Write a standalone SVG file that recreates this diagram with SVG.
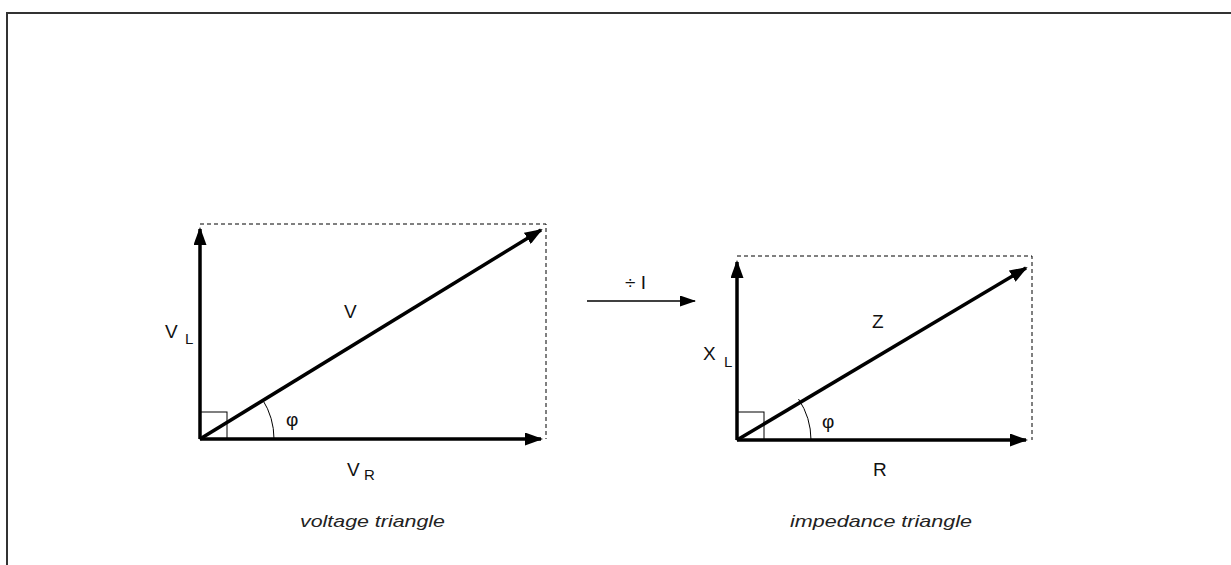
<svg xmlns="http://www.w3.org/2000/svg" width="1231" height="565" viewBox="0 0 1231 565">
<defs>
<marker id="ah" markerWidth="18" markerHeight="13" refX="16" refY="6.5" orient="auto" markerUnits="userSpaceOnUse">
<path d="M0,0 L18,6.5 L0,13 Z" fill="#000"/>
</marker>
<marker id="ahs" markerWidth="16" markerHeight="11" refX="15" refY="5.5" orient="auto" markerUnits="userSpaceOnUse">
<path d="M0,0 L16,5.5 L0,11 Z" fill="#000"/>
</marker>
<style>
.vec{stroke:#000;stroke-width:3.5;fill:none;marker-end:url(#ah)}
.dash{stroke:#000;stroke-width:1;stroke-dasharray:4,3;fill:none}
.thin{stroke:#000;stroke-width:1;fill:none}
.lbl{font-family:"Liberation Sans",Arial,sans-serif;font-size:19px;fill:#111}
.sub{font-family:"Liberation Sans",Arial,sans-serif;font-size:15px;fill:#111}
.cap{font-family:"Liberation Sans",Arial,sans-serif;font-size:17px;font-style:italic;fill:#222}
</style>
</defs>
<rect width="1231" height="565" fill="#fff"/>
<path d="M7,565 V13 H1231" stroke="#333" stroke-width="2" fill="none"/>

<g id="voltage-triangle">
<path class="dash" d="M200,224 H546 V439"/>
<rect class="thin" x="200" y="412" width="27" height="27"/>
<path class="thin" d="M274,439 A74,74 0 0 0 262.5,399.5"/>
<text class="lbl" x="286" y="426">φ</text>
<text class="lbl" x="344" y="318">V</text>
<text class="lbl" x="165" y="338">V</text>
<text class="sub" x="185" y="344">L</text>
<text class="lbl" x="347" y="476">V</text>
<text class="sub" x="364" y="480">R</text>
<text class="cap" x="300" y="527" textLength="145" lengthAdjust="spacingAndGlyphs">voltage triangle</text>
</g>

<g id="impedance-triangle">
<path class="dash" d="M737,256 H1032 V440"/>
<rect class="thin" x="737" y="412" width="27" height="28"/>
<path class="thin" d="M811,440 A74,74 0 0 0 798.5,399"/>
<text class="lbl" x="822" y="428">φ</text>
<text class="lbl" x="872" y="328">Z</text>
<text class="lbl" x="703" y="360">X</text>
<text class="sub" x="724" y="367">L</text>
<text class="lbl" x="873" y="476">R</text>
<text class="cap" x="790" y="527" textLength="182" lengthAdjust="spacingAndGlyphs">impedance triangle</text>
</g>

<g id="divide-label">
<text class="lbl" x="625" y="289">÷ I</text>
</g>

<g id="connectors">
<line class="vec" x1="200" y1="439" x2="200" y2="229"/>
<line class="vec" x1="200" y1="439" x2="541" y2="439"/>
<line class="vec" x1="200" y1="439" x2="541" y2="230"/>
<line class="vec" x1="737" y1="440" x2="737" y2="262"/>
<line class="vec" x1="737" y1="440" x2="1026" y2="440"/>
<line class="vec" x1="737" y1="440" x2="1026" y2="268"/>
<line x1="587" y1="301" x2="695" y2="301" stroke="#000" stroke-width="1.5" marker-end="url(#ahs)"/>
</g>
</svg>
